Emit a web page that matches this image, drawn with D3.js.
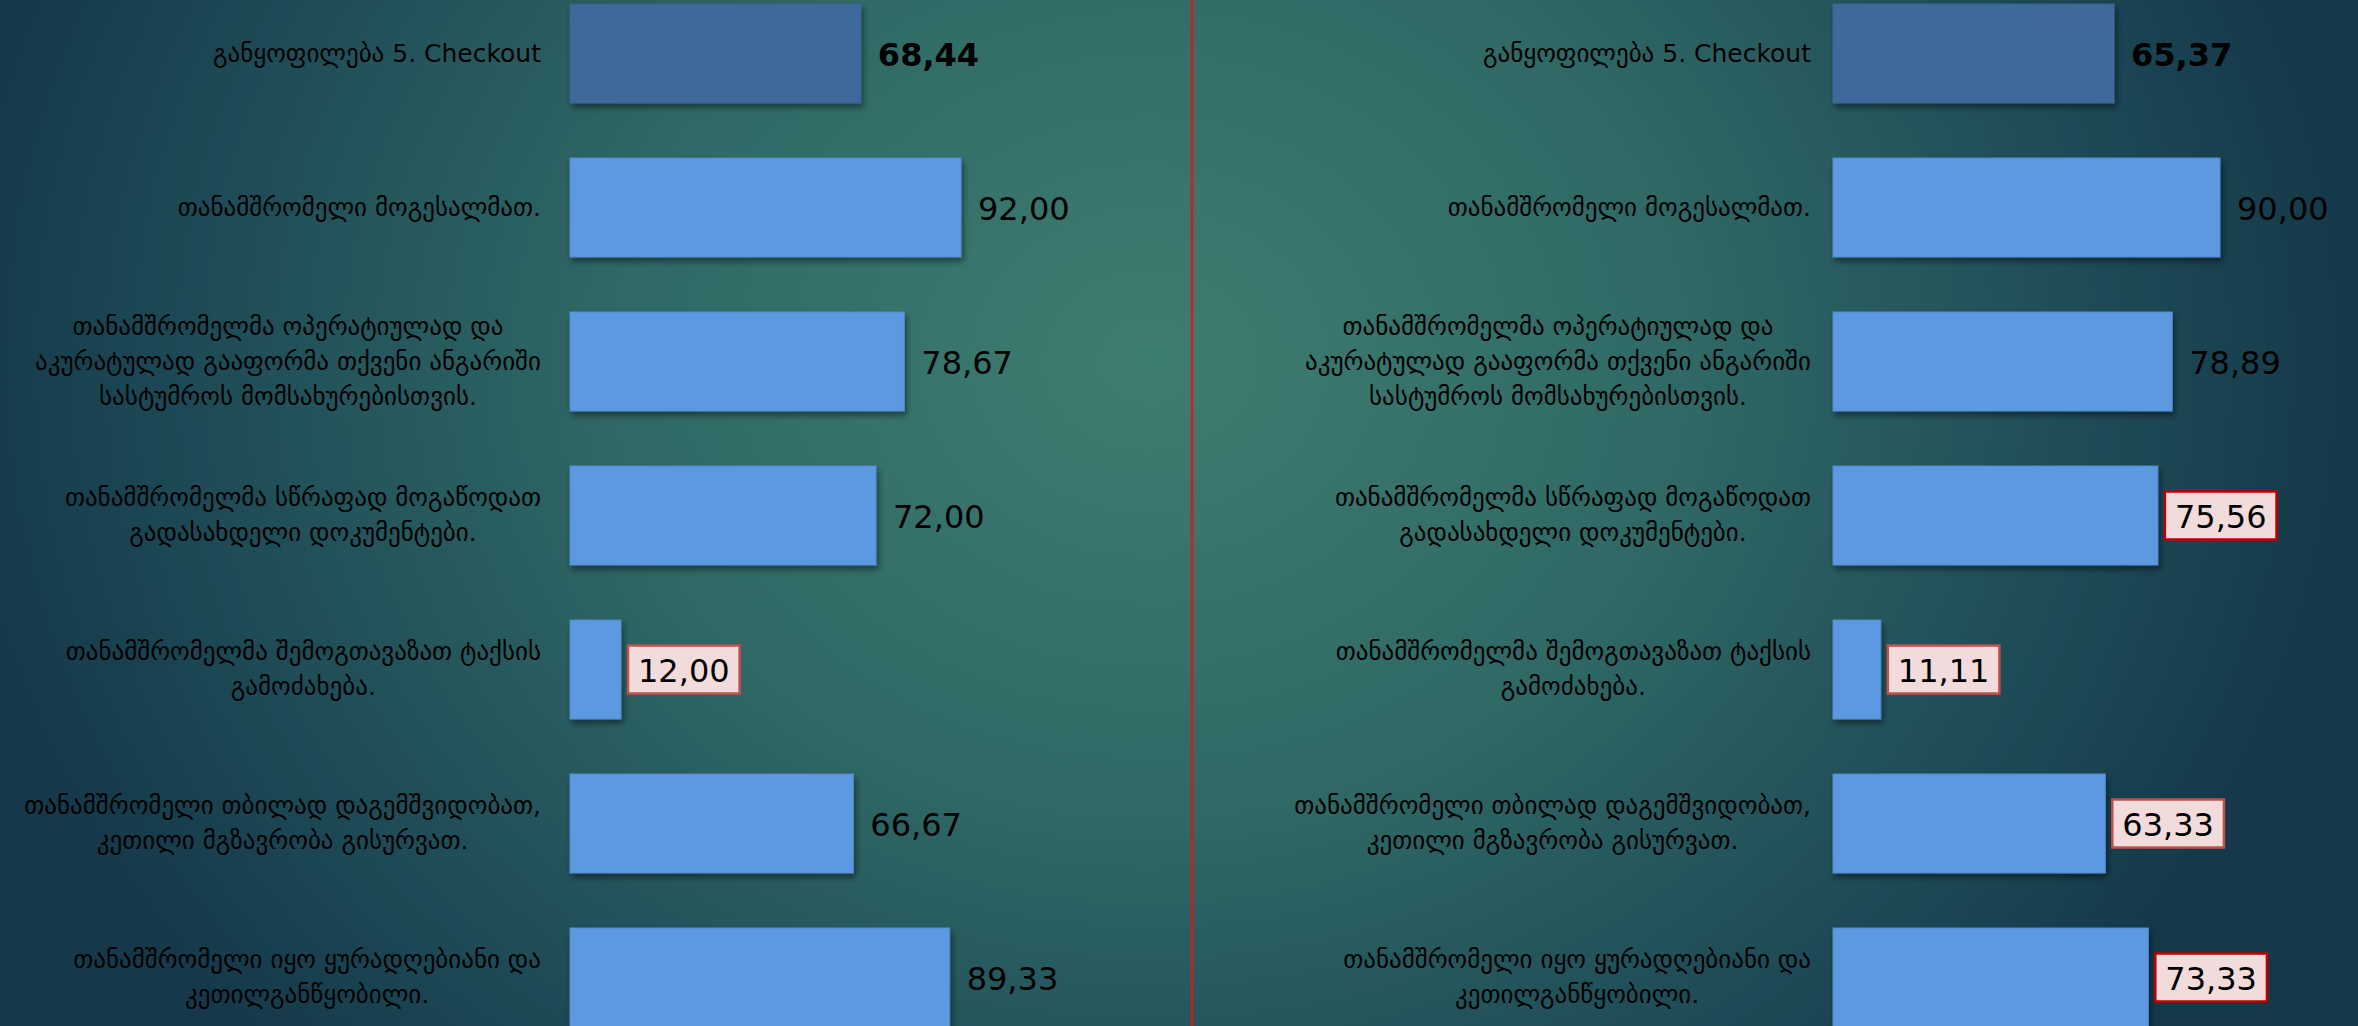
<!DOCTYPE html>
<html>
  <head>
    <meta charset="utf-8">
    <style type="text/css">
      body { margin: 0; overflow: hidden; background: #1b4450; }
      svg { display: block; }
    </style>
    <title>Checkout</title>
  </head>
  <body>
    <script src="https://cdn.jsdelivr.net/npm/d3@7"></script>
    <script>

/*========== Data ==========*/
const categories = [
  "განყოფილება 5. Checkout",
  "თანამშრომელი მოგესალმათ.",
  "თანამშრომელმა ოპერატიულად და\nაკურატულად გააფორმა თქვენი ანგარიში\nსასტუმროს მომსახურებისთვის.",
  "თანამშრომელმა სწრაფად მოგაწოდათ\nგადასახდელი დოკუმენტები.",
  "თანამშრომელმა შემოგთავაზათ ტაქსის\nგამოძახება.",
  "თანამშრომელი თბილად დაგემშვიდობათ,\nკეთილი მგზავრობა გისურვათ.",
  "თანამშრომელი იყო ყურადღებიანი და\nკეთილგანწყობილი."
];
const values_left  = [68.44, 92.00, 78.67, 72.00, 12.00, 66.67, 89.33];
const values_right = [65.37, 90.00, 78.89, 75.56, 11.11, 63.33, 73.33];
// which value labels are boxed (soft / strong red frame)
const flags_left  = ["", "", "", "", "soft", "", ""];
const flags_right = ["", "", "", "strong", "soft", "soft", "strong"];

/*========== Zones ==========*/
const width = 2358, height = 1026;
const font = "'DejaVu Sans', Verdana, sans-serif";

var svg = d3.select("body").append("svg")
    .attr("width", width)
    .attr("height", height);

var defs = svg.append("defs");

// background gradient
var grad = defs.append("radialGradient")
    .attr("id", "bg")
    .attr("gradientUnits", "userSpaceOnUse")
    .attr("cx", 1150).attr("cy", 360).attr("r", 1200)
    .attr("gradientTransform", "translate(1150,360) scale(1,0.85) translate(-1150,-360)");
grad.append("stop").attr("offset", "0").attr("stop-color", "#3e7d71");
grad.append("stop").attr("offset", "0.45").attr("stop-color", "#2f6865");
grad.append("stop").attr("offset", "0.8").attr("stop-color", "#1d4a56");
grad.append("stop").attr("offset", "1").attr("stop-color", "#15394a");

// bar shadow
var shadow = defs.append("filter")
    .attr("id", "shadow")
    .attr("x", "-10%").attr("y", "-10%")
    .attr("width", "130%").attr("height", "130%");
shadow.append("feDropShadow")
    .attr("dx", 2).attr("dy", 4)
    .attr("stdDeviation", 3)
    .attr("flood-color", "#000")
    .attr("flood-opacity", 0.45);

svg.append("rect")
    .attr("width", width)
    .attr("height", height)
    .attr("fill", "url(#bg)");

// red separator
svg.append("line")
    .attr("x1", 1192).attr("x2", 1192)
    .attr("y1", 0).attr("y2", height)
    .attr("stroke", "#d01c1c")
    .attr("stroke-width", 2.5);

/*========== Scales ==========*/
var scale_y = d3.scaleBand()
    .domain(d3.range(categories.length))
    .range([-23.5, 1054.5])
    .paddingInner(55 / 154)
    .paddingOuter(55 / 308);

const panels = [
  {values: values_left,  flags: flags_left,  x: d3.scaleLinear().domain([0, 100]).range([570, 995]),   labelRight: 541},
  {values: values_right, flags: flags_right, x: d3.scaleLinear().domain([0, 100]).range([1833, 2263]), labelRight: 1811}
];

const frameColor = {soft: "#c0504d", strong: "#c00000"};
const fmt = v => v.toFixed(2).replace(".", ",");

/*========== Draw ==========*/
panels.forEach(function(p) {
  var g = svg.append("g");

  // category labels: lines centred in a block whose right edge sits at labelRight
  categories.forEach(function(c, i) {
    var lines = c.split("\n");
    var cy = scale_y(i) + scale_y.bandwidth() / 2;
    var lh = 35;
    var t = g.append("text")
        .attr("font-family", font)
        .attr("font-size", 25)
        .attr("fill", "#000")
        .attr("text-anchor", "middle");
    var spans = lines.map(function(l, k) {
      return t.append("tspan")
          .attr("y", cy + 8 + (k - (lines.length - 1) / 2) * lh)
          .text(l);
    });
    var maxW = d3.max(spans, s => s.node().getComputedTextLength());
    spans.forEach(s => s.attr("x", p.labelRight - maxW / 2));
  });

  // bars
  g.selectAll("rect.bar")
    .data(p.values)
    .enter()
    .append("rect")
      .attr("class", "bar")
      .attr("x", p.x(0))
      .attr("y", (d, i) => scale_y(i))
      .attr("width", d => p.x(d) - p.x(0))
      .attr("height", scale_y.bandwidth())
      .attr("fill", (d, i) => i == 0 ? "#3e699b" : "#5d99e0")
      .attr("stroke", (d, i) => i == 0 ? "#3a6494" : "#4f8bd0")
      .attr("stroke-width", 1)
      .attr("filter", "url(#shadow)");

  // value labels
  p.values.forEach(function(v, i) {
    var cy = scale_y(i) + scale_y.bandwidth() / 2;
    var tx = p.x(v) + 17;
    var box = g.append("rect");
    var t = g.append("text")
        .attr("x", tx)
        .attr("y", cy + 12)
        .attr("font-family", font)
        .attr("font-size", 32)
        .attr("font-weight", i == 0 ? "bold" : "normal")
        .attr("fill", "#000")
        .text(fmt(v));
    if (p.flags[i]) {
      var w = t.node().getComputedTextLength();
      box.attr("x", tx - 10)
          .attr("y", cy - 24)
          .attr("width", w + 20)
          .attr("height", 48)
          .attr("fill", "#f2dcdb")
          .attr("stroke", frameColor[p.flags[i]])
          .attr("stroke-width", 2.5);
    } else {
      box.remove();
    }
  });
});

    </script>
  </body>
</html>
